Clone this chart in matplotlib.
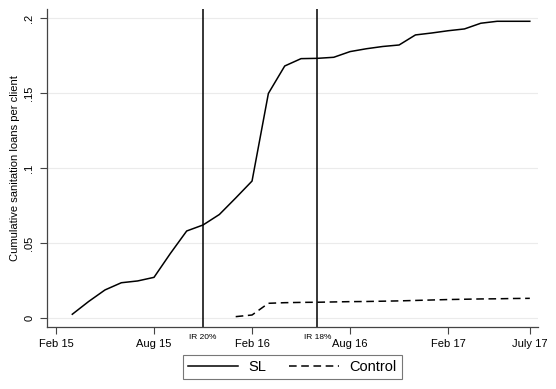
import matplotlib.pyplot as plt
import matplotlib.transforms as mtransforms

plt.rcParams['font.family'] = ['Liberation Sans', 'DejaVu Sans']

# months counted from Feb 2015 (0 = Feb 15)
sl_months = list(range(1, 30))
sl_values = [0.0025, 0.011, 0.0187, 0.0235, 0.0247, 0.0271, 0.043, 0.058, 0.062,
             0.069, 0.080, 0.0913, 0.1497, 0.168, 0.1729, 0.1731, 0.1738, 0.1776,
             0.1795, 0.181, 0.182, 0.1887, 0.190, 0.1915, 0.1927, 0.1965, 0.1978,
             0.1978, 0.1978]

ctrl_months = list(range(11, 30))
ctrl_values = [0.0009, 0.002, 0.0098, 0.0102, 0.0104, 0.0105, 0.0107, 0.0109,
               0.011, 0.0112, 0.0114, 0.0117, 0.012, 0.0123, 0.0125, 0.0127,
               0.0128, 0.013, 0.0131]

xtick_pos = [0, 6, 12, 18, 24, 29]
xtick_labels = ['Feb 15', 'Aug 15', 'Feb 16', 'Aug 16', 'Feb 17', 'July 17']
ytick_pos = [0, 0.05, 0.1, 0.15, 0.2]
ytick_labels = ['0', '.05', '.1', '.15', '.2']

events = [9, 16]
event_labels = ['IR 20%', 'IR 18%']

fig = plt.figure(figsize=(5.56, 3.89), dpi=100)
ax = fig.add_axes([0.0845, 0.1594, 0.8831, 0.8175])

for y in ytick_pos:
    ax.axhline(y, color='#ebebeb', lw=0.8, zorder=0)

ax.plot(sl_months, sl_values, color='black', lw=1.1, label='SL')
ax.plot(ctrl_months, ctrl_values, color='black', lw=1.1, dashes=(5, 3), label='Control')

trans = mtransforms.blended_transform_factory(ax.transData, ax.transAxes)
for x, lab in zip(events, event_labels):
    ax.axvline(x, color='black', lw=1.1)
    ax.text(x, -0.032, lab, transform=trans, ha='center', va='center', fontsize=6)

ax.set_xlim(-0.55, 29.5)
ax.set_ylim(-0.006, 0.206)
ax.set_xticks(xtick_pos)
ax.set_xticklabels(xtick_labels)
ax.set_yticks(ytick_pos)
ax.set_yticklabels(ytick_labels, rotation=90, va='center')
ax.tick_params(axis='both', direction='out', length=5, width=0.8, color='#444444',
               labelsize=8, pad=4)
ax.set_ylabel('Cumulative sanitation loans per client', fontsize=8, labelpad=3)

for side in ['top', 'right']:
    ax.spines[side].set_visible(False)
for side in ['left', 'bottom']:
    ax.spines[side].set_color('#444444')
    ax.spines[side].set_linewidth(0.9)

leg = fig.legend(loc='upper center', bbox_to_anchor=(0.526, 0.087), ncol=2,
                 fontsize=10.5, handlelength=3.4, columnspacing=1.6,
                 handletextpad=0.7, fancybox=False, edgecolor='#555555',
                 borderpad=0.35, borderaxespad=0.0)
leg.get_frame().set_linewidth(0.8)

fig.savefig('out.png', dpi=100, facecolor='white')
